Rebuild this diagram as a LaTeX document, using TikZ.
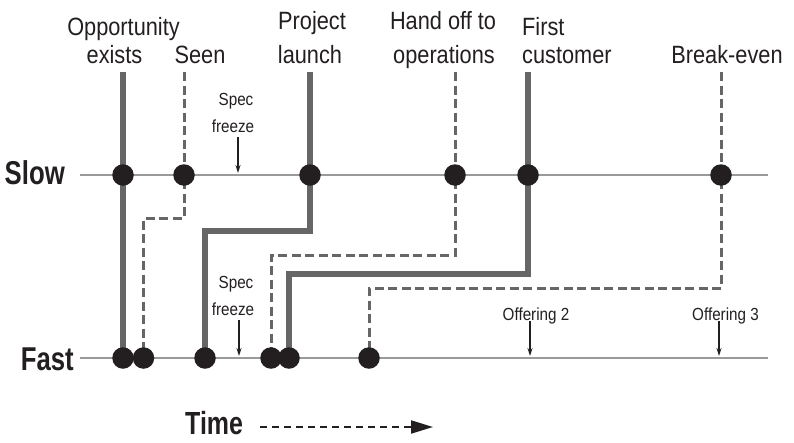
\documentclass[tikz,border=0pt]{standalone}
\usepackage{fontspec}
\setmainfont[FakeStretch=0.87]{Liberation Sans}
\newfontfamily\condbold[FakeStretch=0.78]{Liberation Sans}
\usetikzlibrary{arrows.meta}
\definecolor{ink}{HTML}{231F20}
\definecolor{axisgray}{HTML}{9A9A9A}
\definecolor{pathgray}{HTML}{666666}
\begin{document}
\begin{tikzpicture}[x=1pt,y=-1pt,
  axisline/.style={axisgray, line width=2.7pt},
  solidpath/.style={pathgray, line width=5.8pt},
  dashpath/.style={pathgray, line width=3pt, dash pattern=on 9pt off 4.5pt},
  event/.style={circle, fill=ink, inner sep=0pt, minimum size=21.5pt},
  toplabel/.style={inner sep=0pt, anchor=base, text=ink, font=\fontsize{25}{30}\selectfont},
  smalllabel/.style={inner sep=0pt, anchor=base, text=ink, font=\fontsize{17.5}{20}\selectfont},
  speedlabel/.style={inner sep=0pt, anchor=base east, text=ink, font=\condbold\fontsize{33}{38}\selectfont\bfseries},
  pointer/.style={ink, line width=1.2pt, -{Stealth[length=8pt,width=5pt]}},
]
\useasboundingbox (0,0) rectangle (794,442);

% axes
\coordinate (sl0) at (80,175); \coordinate (sl1) at (768,175);
\coordinate (fl0) at (80,358); \coordinate (fl1) at (768,358);
\draw[axisline] (sl0) -- (sl1);
\draw[axisline] (fl0) -- (fl1);
\node[speedlabel] (slow) at (65,184) {Slow};
\node[speedlabel] (fast) at (74,370) {Fast};

% event coordinates
\coordinate (s1) at (123,175); \coordinate (f1) at (123,358);
\coordinate (s2) at (184,175); \coordinate (f2) at (143.5,358);
\coordinate (s3) at (310,175); \coordinate (f3) at (205,358);
\coordinate (s4) at (455,175); \coordinate (f4) at (271,358);
\coordinate (s5) at (528,175); \coordinate (f5) at (289,358);
\coordinate (s6) at (721,175); \coordinate (f6) at (369,358);
\coordinate (t1) at (123,72);
\coordinate (t2) at (184,72); \coordinate (k2) at (184,218);
\coordinate (t3) at (310,72); \coordinate (k3) at (310,231);
\coordinate (t4) at (455,72); \coordinate (k4) at (455,255);
\coordinate (t5) at (528,72); \coordinate (k5) at (528,274);
\coordinate (t6) at (721,72); \coordinate (k6) at (721,288);

% paths
\draw[solidpath] (t1) -- (s1) -- (f1);
\draw[dashpath] (t2) -- (s2) -- (k2) -| (f2);
\draw[solidpath] (t3) -- (s3) -- (k3) -| (f3);
\draw[dashpath] (t4) -- (s4) -- (k4) -| (f4);
\draw[solidpath] (t5) -- (s5) -- (k5) -| (f5);
\draw[dashpath] (t6) -- (s6) -- (k6) -| (f6);

% dots
\foreach \i in {1,...,6} {
  \node[event] (S\i) at (s\i) {};
  \node[event] (F\i) at (f\i) {};
}

% top labels
\node[toplabel] (opp) at (123.5,35) {Opportunity};
\node[toplabel] (exi) at (114.5,63) {exists};
\node[toplabel] (seen) at (200,63) {Seen};
\node[toplabel] (proj) at (312,29) {Project};
\node[toplabel] (laun) at (310,63) {launch};
\node[toplabel] (hand) at (443,29) {Hand off to};
\node[toplabel] (oper) at (444,63) {operations};
\node[toplabel, anchor=base west] (first) at (522,35) {First};
\node[toplabel, anchor=base west] (cust) at (522,63) {customer};
\node[toplabel] (brk) at (727,63) {Break-even};

% spec freeze (slow)
\node[smalllabel] (spec1) at (236,105) {Spec};
\node[smalllabel] (frz1) at (233,132) {freeze};
\coordinate (p1a) at (238,137); \coordinate (p1b) at (238,173);
\draw[pointer] (p1a) -- (p1b);

% spec freeze (fast)
\node[smalllabel] (spec2) at (236,288) {Spec};
\node[smalllabel] (frz2) at (233,315) {freeze};
\coordinate (p2a) at (239,320); \coordinate (p2b) at (239,356);
\draw[pointer] (p2a) -- (p2b);

% offerings
\node[smalllabel] (off2) at (536,320) {Offering 2};
\coordinate (p3a) at (530,321); \coordinate (p3b) at (530,356);
\draw[pointer] (p3a) -- (p3b);
\node[smalllabel] (off3) at (725.5,320) {Offering 3};
\coordinate (p4a) at (719,321); \coordinate (p4b) at (719,356);
\draw[pointer] (p4a) -- (p4b);

% time
\node[inner sep=0pt, anchor=base west, text=ink, font=\condbold\fontsize{32}{36}\selectfont\bfseries] (time) at (185,434) {Time};
\coordinate (ta0) at (260,427); \coordinate (ta1) at (433,427);
\draw[ink, line width=2pt, dash pattern=on 7pt off 5pt, -{Triangle[length=22pt,width=13pt]}] (ta0) -- (ta1);
\end{tikzpicture}
\end{document}
